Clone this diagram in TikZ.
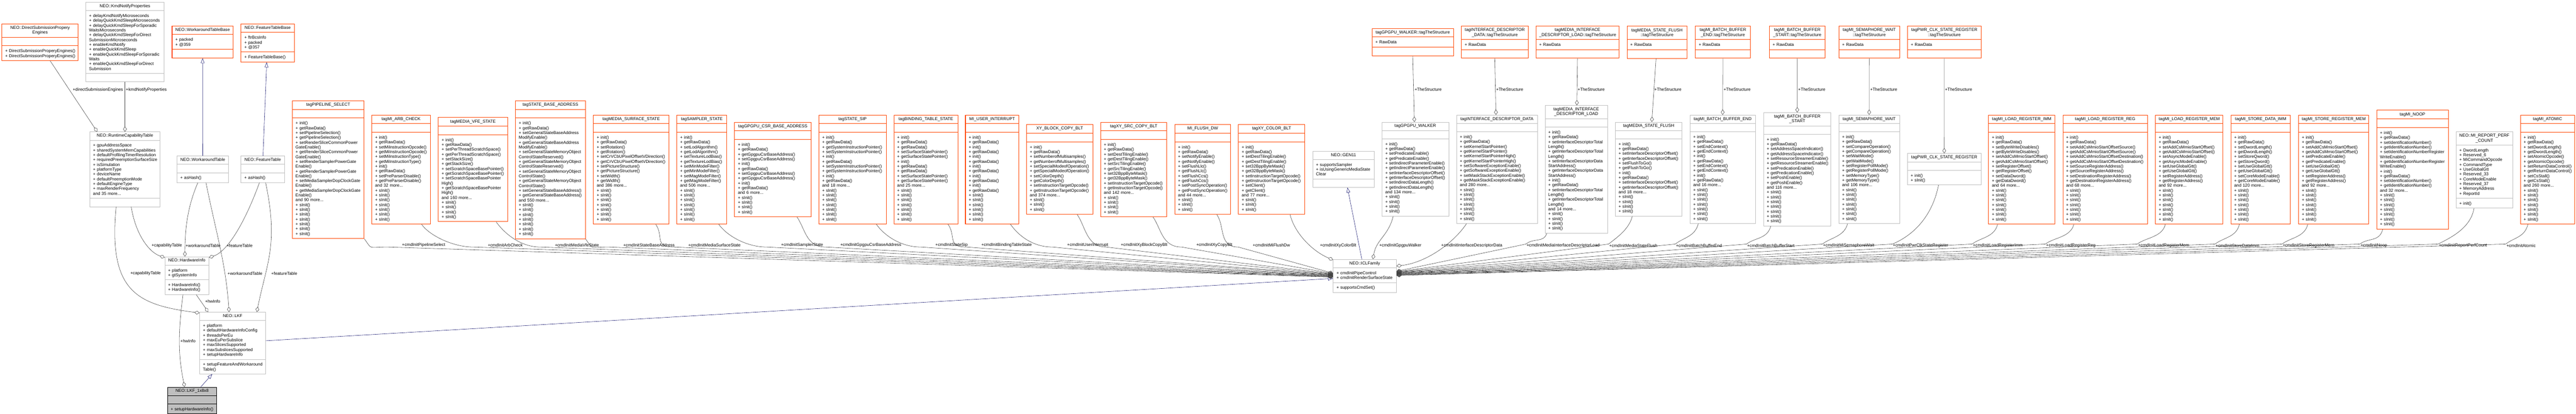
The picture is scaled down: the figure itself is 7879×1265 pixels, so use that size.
\documentclass[tikz,border=0pt]{standalone}
\usepackage{fontspec}
\setmainfont{Liberation Sans}
\usepackage{xcolor}
\usepackage{tikz}
\usetikzlibrary{shapes,arrows.meta}

\definecolor{orangec}{HTML}{FF4500}
\definecolor{greyc}{HTML}{BFBFBF}
\definecolor{edgec}{HTML}{404040}
\definecolor{navyc}{HTML}{191970}

\setlength{\parindent}{0pt}
\hyphenpenalty=10000
\exhyphenpenalty=10000

\newcommand\ct[1]{\centering\strut#1\strut\par}
\newcommand\mm[1]{\par\strut+~#1}
\newcommand\cn[1]{\par\strut#1}
\newcommand\more[1]{\cn{and #1 more...}}
\newcommand\si[1]{\foreach \i in {1,...,#1}{\mm{sInit()}}}
\newcommand\ig{\mm{init()}\mm{getRawData()}}
\newcommand\emp{\strut}

\tikzset{
  cls/.style={rectangle split, rectangle split parts=3, draw=greyc, line width=1pt,
    inner xsep=10pt, inner ysep=5pt, anchor=north west, align=left,
    font=\fontsize{13}{14.7}\selectfont},
  ext/.style={cls, draw=orangec, line width=1.6pt},
  lbl/.style={font=\fontsize{13}{14.7}\selectfont, inner sep=0pt, anchor=west},
  agg/.style={draw=edgec, line width=0.9pt, -{Diamond[open,length=16pt,width=11pt]}},
  inh/.style={draw=navyc, line width=0.9pt, -{Triangle[open,length=15pt,width=11pt]}}
}

\begin{document}
\begin{tikzpicture}[x=1pt,y=-1pt]
\useasboundingbox (0,0) rectangle (7879,1265);

\node[ext, text width=213.4pt] (dspe) at (5.1,71.8) {\ct{NEO::DirectSubmissionPropery\\Engines}\nodepart{two}\emp\nodepart{three}\mm{DirectSubmissionProperyEngines()}\mm{DirectSubmissionProperyEngines()}};
\node[cls, text width=219.2pt] (kmd) at (262.1,6.5) {\ct{NEO::KmdNotifyProperties}\nodepart{two}\mm{delayKmdNotifyMicroseconds}\mm{delayQuickKmdSleepMicroseconds}\mm{delayQuickKmdSleepForSporadic}\cn{WaitsMicroseconds}\mm{delayQuickKmdSleepForDirect}\cn{SubmissionMicroseconds}\mm{enableKmdNotify}\mm{enableQuickKmdSleep}\mm{enableQuickKmdSleepForSporadic}\cn{Waits}\mm{enableQuickKmdSleepForDirect}\cn{Submission}\nodepart{three}\emp};
\node[ext, text width=166.9pt] (wtb) at (525.5,78.3) {\ct{NEO::WorkaroundTableBase}\nodepart{two}\mm{packed}\mm{@359}\nodepart{three}\emp};
\node[ext, text width=142.6pt] (ftb) at (736.6,71.8) {\ct{NEO::FeatureTableBase}\nodepart{two}\mm{ftrBcsInfo}\mm{packed}\mm{@357}\nodepart{three}\mm{FeatureTableBase()}};
\node[cls, text width=195pt] (rct) at (274.2,402.6) {\ct{NEO::RuntimeCapabilityTable}\nodepart{two}\mm{gpuAddressSpace}\mm{sharedSystemMemCapabilities}\mm{defaultProfilingTimerResolution}\mm{requiredPreemptionSurfaceSize}\mm{isSimulation}\mm{platformType}\mm{deviceName}\mm{defaultPreemptionMode}\mm{defaultEngineType}\mm{maxRenderFrequency}\more{35}\nodepart{three}\emp};
\node[cls, text width=137.5pt] (wt) at (540.8,476) {\ct{NEO::WorkaroundTable}\nodepart{two}\emp\nodepart{three}\mm{asHash()}};
\node[cls, text width=112.7pt] (ft) at (736.6,476) {\ct{NEO::FeatureTable}\nodepart{two}\emp\nodepart{three}\mm{asHash()}};
\node[cls, text width=114.6pt] (hwi) at (503.8,784.2) {\ct{NEO::HardwareInfo}\nodepart{two}\mm{platform}\mm{gtSystemInfo}\nodepart{three}\mm{HardwareInfo()}\mm{HardwareInfo()}};
\node[cls, text width=181.6pt] (lkf) at (610.3,953.6) {\ct{NEO::LKF}\nodepart{two}\mm{platform}\mm{defaultHardwareInfoConfig}\mm{threadsPerEu}\mm{maxEuPerSubslice}\mm{maxSlicesSupported}\mm{maxSubslicesSupported}\mm{setupHardwareInfo}\nodepart{three}\mm{setupFeatureAndWorkaround}\cn{Table()}};
\node[cls, draw=black, fill=greyc, text width=131.1pt] (lkf188) at (511.5,1182.7) {\ct{NEO::LKF\_1x8x8}\nodepart{two}\emp\nodepart{three}\mm{setupHardwareInfo()}};
\node[cls, text width=168.1pt] (gen) at (4014.7,461.5) {\ct{NEO::GEN11}\nodepart{two}\mm{supportsSampler}\mm{isUsingGenericMediaState}\cn{Clear}\nodepart{three}\emp};
\node[cls, text width=173.2pt] (icl) at (4077.2,792.3) {\ct{NEO::ICLFamily}\nodepart{two}\mm{cmdInitPipeControl}\mm{cmdInitRenderSurfaceState}\nodepart{three}\mm{supportsCmdSet()}};

\node[ext, text width=199.6pt] (pipe) at (893.3,307) {\ct{tagPIPELINE\_SELECT}\nodepart{two}\emp\nodepart{three}\ig\mm{setPipelineSelection()}\mm{getPipelineSelection()}\mm{setRenderSliceCommonPower}\cn{GateEnable()}\mm{getRenderSliceCommonPower}\cn{GateEnable()}\mm{setRenderSamplerPowerGate}\cn{Enable()}\mm{getRenderSamplerPowerGate}\cn{Enable()}\mm{setMediaSamplerDopClockGate}\cn{Enable()}\mm{getMediaSamplerDopClockGate}\cn{Enable()}\more{90}\si{7}};
\node[ext, text width=158.5pt] (arb) at (1136.5,351) {\ct{tagMI\_ARB\_CHECK}\nodepart{two}\emp\nodepart{three}\ig\mm{setMiInstructionOpcode()}\mm{getMiInstructionOpcode()}\mm{setMiInstructionType()}\mm{getMiInstructionType()}\ig\mm{setPreParserDisable()}\mm{getPreParserDisable()}\more{32}\si{7}};
\node[ext, text width=191.7pt] (vfe) at (1340,358.2) {\ct{tagMEDIA\_VFE\_STATE}\nodepart{two}\emp\nodepart{three}\ig\mm{setPerThreadScratchSpace()}\mm{getPerThreadScratchSpace()}\mm{setStackSize()}\mm{getStackSize()}\mm{setScratchSpaceBasePointer()}\mm{getScratchSpaceBasePointer()}\mm{setScratchSpaceBasePointer}\cn{High()}\mm{getScratchSpaceBasePointer}\cn{High()}\more{160}\si{4}};
\node[ext, text width=193.6pt] (sba) at (1575.9,307.4) {\ct{tagSTATE\_BASE\_ADDRESS}\nodepart{two}\emp\nodepart{three}\ig\mm{setGeneralStateBaseAddress}\cn{ModifyEnable()}\mm{getGeneralStateBaseAddress}\cn{ModifyEnable()}\mm{setGeneralStateMemoryObject}\cn{ControlStateReserved()}\mm{getGeneralStateMemoryObject}\cn{ControlStateReserved()}\mm{setGeneralStateMemoryObject}\cn{ControlState()}\mm{getGeneralStateMemoryObject}\cn{ControlState()}\mm{setGeneralStateBaseAddress()}\mm{getGeneralStateBaseAddress()}\more{550}\si{7}};
\node[ext, text width=210.9pt] (mss) at (1814.4,351) {\ct{tagMEDIA\_SURFACE\_STATE}\nodepart{two}\emp\nodepart{three}\ig\mm{setRotation()}\mm{getRotation()}\mm{setCrVCbUPixelOffsetVDirection()}\mm{getCrVCbUPixelOffsetVDirection()}\mm{setPictureStructure()}\mm{getPictureStructure()}\mm{setWidth()}\mm{getWidth()}\more{386}\si{7}};
\node[ext, text width=132.4pt] (samp) at (2069.5,351) {\ct{tagSAMPLER\_STATE}\nodepart{two}\emp\nodepart{three}\ig\mm{setLodAlgorithm()}\mm{getLodAlgorithm()}\mm{setTextureLodBias()}\mm{getTextureLodBias()}\mm{setMinModeFilter()}\mm{getMinModeFilter()}\mm{setMagModeFilter()}\mm{getMagModeFilter()}\more{506}\si{7}};
\node[ext, text width=213.4pt] (csr) at (2246.2,372.7) {\ct{tagGPGPU\_CSR\_BASE\_ADDRESS}\nodepart{two}\emp\nodepart{three}\ig\mm{getGpgpuCsrBaseAddress()}\mm{setGpgpuCsrBaseAddress()}\ig\mm{setGpgpuCsrBaseAddress()}\mm{getGpgpuCsrBaseAddress()}\ig\more{6}\si{4}};
\node[ext, text width=186pt] (sip) at (2503.8,351) {\ct{tagSTATE\_SIP}\nodepart{two}\emp\nodepart{three}\ig\mm{getSystemInstructionPointer()}\mm{setSystemInstructionPointer()}\ig\mm{setSystemInstructionPointer()}\mm{getSystemInstructionPointer()}\ig\more{18}\si{7}};
\node[ext, text width=175.2pt] (btab) at (2733.4,351) {\ct{tagBINDING\_TABLE\_STATE}\nodepart{two}\emp\nodepart{three}\ig\mm{getRawData()}\mm{setSurfaceStatePointer()}\mm{getSurfaceStatePointer()}\ig\mm{getRawData()}\mm{setSurfaceStatePointer()}\mm{getSurfaceStatePointer()}\more{25}\si{7}};
\node[ext, text width=142.6pt] (uint) at (2952.2,351) {\ct{MI\_USER\_INTERRUPT}\nodepart{two}\emp\nodepart{three}\ig\ig\ig\ig\ig\ig\si{6}};
\node[ext, text width=182.8pt] (xyblk) at (3139,380) {\ct{XY\_BLOCK\_COPY\_BLT}\nodepart{two}\emp\nodepart{three}\ig\mm{setNumberofMultisamples()}\mm{getNumberofMultisamples()}\mm{setSpecialModeofOperation()}\mm{getSpecialModeofOperation()}\mm{setColorDepth()}\mm{getColorDepth()}\mm{setInstructionTargetOpcode()}\mm{getInstructionTargetOpcode()}\more{374}\si{3}};
\node[ext, text width=182.8pt] (xysrc) at (3365.4,372.7) {\ct{tagXY\_SRC\_COPY\_BLT}\nodepart{two}\emp\nodepart{three}\ig\mm{setDestTilingEnable()}\mm{getDestTilingEnable()}\mm{setSrcTilingEnable()}\mm{getSrcTilingEnable()}\mm{set32BppByteMask()}\mm{get32BppByteMask()}\mm{setInstructionTargetOpcode()}\mm{getInstructionTargetOpcode()}\more{142}\si{4}};
\node[ext, text width=150.9pt] (flush) at (3592.5,380) {\ct{MI\_FLUSH\_DW}\nodepart{two}\emp\nodepart{three}\ig\mm{setNotifyEnable()}\mm{getNotifyEnable()}\mm{setFlushLlc()}\mm{getFlushLlc()}\mm{setFlushCcs()}\mm{getFlushCcs()}\mm{setPostSyncOperation()}\mm{getPostSyncOperation()}\more{44}\si{3}};
\node[ext, text width=182.8pt] (xycol) at (3787,380) {\ct{tagXY\_COLOR\_BLT}\nodepart{two}\emp\nodepart{three}\ig\mm{setDestTilingEnable()}\mm{getDestTilingEnable()}\mm{set32BppByteMask()}\mm{get32BppByteMask()}\mm{setInstructionTargetOpcode()}\mm{getInstructionTargetOpcode()}\mm{setClient()}\mm{getClient()}\more{77}\si{3}};

\node[ext, text width=228.7pt] (walks) at (4195.8,86.3) {\ct{tagGPGPU\_WALKER::tagTheStructure}\nodepart{two}\mm{RawData}\nodepart{three}\emp};
\node[cls, text width=184.1pt] (walk) at (4226.4,372.7) {\ct{tagGPGPU\_WALKER}\nodepart{two}\emp\nodepart{three}\ig\mm{setPredicateEnable()}\mm{getPredicateEnable()}\mm{setIndirectParameterEnable()}\mm{getIndirectParameterEnable()}\mm{setInterfaceDescriptorOffset()}\mm{getInterfaceDescriptorOffset()}\mm{setIndirectDataLength()}\mm{getIndirectDataLength()}\more{134}\si{4}};
\node[ext, text width=184.7pt] (idds) at (4468.8,79) {\ct{tagINTERFACE\_DESCRIPTOR\\\_DATA::tagTheStructure}\nodepart{two}\mm{RawData}\nodepart{three}\emp};
\node[cls, text width=226.8pt] (idd) at (4454.7,351) {\ct{tagINTERFACE\_DESCRIPTOR\_DATA}\nodepart{two}\emp\nodepart{three}\ig\mm{setKernelStartPointer()}\mm{getKernelStartPointer()}\mm{setKernelStartPointerHigh()}\mm{getKernelStartPointerHigh()}\mm{setSoftwareExceptionEnable()}\mm{getSoftwareExceptionEnable()}\mm{setMaskStackExceptionEnable()}\mm{getMaskStackExceptionEnable()}\more{280}\si{7}};
\node[ext, text width=234.5pt] (midls) at (4697,79) {\ct{tagMEDIA\_INTERFACE\\\_DESCRIPTOR\_LOAD::tagTheStructure}\nodepart{two}\mm{RawData}\nodepart{three}\emp};
\node[cls, text width=170.7pt] (midl) at (4725.1,321.9) {\ct{tagMEDIA\_INTERFACE\\\_DESCRIPTOR\_LOAD}\nodepart{two}\emp\nodepart{three}\ig\mm{setInterfaceDescriptorTotal}\cn{Length()}\mm{getInterfaceDescriptorTotal}\cn{Length()}\mm{setInterfaceDescriptorData}\cn{StartAddress()}\mm{getInterfaceDescriptorData}\cn{StartAddress()}\ig\mm{setInterfaceDescriptorTotal}\cn{Length()}\mm{getInterfaceDescriptorTotal}\cn{Length()}\more{14}\si{4}};
\node[ext, text width=163.3pt] (msfs) at (4975.7,79.3) {\ct{tagMEDIA\_STATE\_FLUSH\\::tagTheStructure}\nodepart{two}\mm{RawData}\nodepart{three}\emp};
\node[cls, text width=184.1pt] (msf) at (4940,372.7) {\ct{tagMEDIA\_STATE\_FLUSH}\nodepart{two}\emp\nodepart{three}\ig\mm{setInterfaceDescriptorOffset()}\mm{getInterfaceDescriptorOffset()}\mm{setFlushToGo()}\mm{getFlushToGo()}\ig\mm{setInterfaceDescriptorOffset()}\mm{getInterfaceDescriptorOffset()}\more{18}\si{4}};
\node[ext, text width=147.7pt] (bbes) at (5185,79) {\ct{tagMI\_BATCH\_BUFFER\\\_END::tagTheStructure}\nodepart{two}\mm{RawData}\nodepart{three}\emp};
\node[cls, text width=180.2pt] (bbe) at (5168.4,351) {\ct{tagMI\_BATCH\_BUFFER\_END}\nodepart{two}\emp\nodepart{three}\ig\mm{setEndContext()}\mm{getEndContext()}\ig\mm{setEndContext()}\mm{getEndContext()}\ig\more{16}\si{7}};
\node[ext, text width=150.9pt] (bbss) at (5410.7,79) {\ct{tagMI\_BATCH\_BUFFER\\\_START::tagTheStructure}\nodepart{two}\mm{RawData}\nodepart{three}\emp};
\node[cls, text width=186pt] (bbs) at (5393.5,343.7) {\ct{tagMI\_BATCH\_BUFFER\\\_START}\nodepart{two}\emp\nodepart{three}\ig\mm{setAddressSpaceIndicator()}\mm{getAddressSpaceIndicator()}\mm{setResourceStreamerEnable()}\mm{getResourceStreamerEnable()}\mm{setPredicationEnable()}\mm{getPredicationEnable()}\mm{setPoshEnable()}\mm{getPoshEnable()}\more{116}\si{7}};
\node[ext, text width=165.6pt] (sems) at (5623.7,79) {\ct{tagMI\_SEMAPHORE\_WAIT\\::tagTheStructure}\nodepart{two}\mm{RawData}\nodepart{three}\emp};
\node[cls, text width=165.6pt] (sem) at (5623.7,351) {\ct{tagMI\_SEMAPHORE\_WAIT}\nodepart{two}\emp\nodepart{three}\ig\mm{setCompareOperation()}\mm{getCompareOperation()}\mm{setWaitMode()}\mm{getWaitMode()}\mm{setRegisterPollMode()}\mm{getRegisterPollMode()}\mm{setMemoryType()}\mm{getMemoryType()}\more{106}\si{7}};
\node[ext, text width=205.2pt] (pwrs) at (5833.5,79) {\ct{tagPWR\_CLK\_STATE\_REGISTER\\::tagTheStructure}\nodepart{two}\mm{RawData}\nodepart{three}\emp};
\node[cls, text width=205.2pt] (pwr) at (5833.5,468.7) {\ct{tagPWR\_CLK\_STATE\_REGISTER}\nodepart{two}\emp\nodepart{three}\mm{init()}\mm{sInit()}};
\node[ext, text width=182.8pt] (lri) at (6081.6,351) {\ct{tagMI\_LOAD\_REGISTER\_IMM}\nodepart{two}\emp\nodepart{three}\ig\mm{setByteWriteDisables()}\mm{getByteWriteDisables()}\mm{setAddCsMmioStartOffset()}\mm{getAddCsMmioStartOffset()}\mm{setRegisterOffset()}\mm{getRegisterOffset()}\mm{setDataDword()}\mm{getDataDword()}\more{64}\si{7}};
\node[ext, text width=238.9pt] (lrr) at (6308.7,351) {\ct{tagMI\_LOAD\_REGISTER\_REG}\nodepart{two}\emp\nodepart{three}\ig\mm{setAddCsMmioStartOffsetSource()}\mm{getAddCsMmioStartOffsetSource()}\mm{setAddCsMmioStartOffsetDestination()}\mm{getAddCsMmioStartOffsetDestination()}\mm{setSourceRegisterAddress()}\mm{getSourceRegisterAddress()}\mm{setDestinationRegisterAddress()}\mm{getDestinationRegisterAddress()}\more{68}\si{7}};
\node[ext, text width=186.7pt] (lrm) at (6591.8,351) {\ct{tagMI\_LOAD\_REGISTER\_MEM}\nodepart{two}\emp\nodepart{three}\ig\mm{setAddCsMmioStartOffset()}\mm{getAddCsMmioStartOffset()}\mm{setAsyncModeEnable()}\mm{getAsyncModeEnable()}\mm{setUseGlobalGtt()}\mm{getUseGlobalGtt()}\mm{setRegisterAddress()}\mm{getRegisterAddress()}\more{92}\si{7}};
\node[ext, text width=161.9pt] (sdi) at (6822.7,351) {\ct{tagMI\_STORE\_DATA\_IMM}\nodepart{two}\emp\nodepart{three}\ig\mm{setDwordLength()}\mm{getDwordLength()}\mm{setStoreQword()}\mm{getStoreQword()}\mm{setUseGlobalGtt()}\mm{getUseGlobalGtt()}\mm{setCoreModeEnable()}\mm{getCoreModeEnable()}\more{120}\si{7}};
\node[ext, text width=194.3pt] (srm) at (7029.5,351) {\ct{tagMI\_STORE\_REGISTER\_MEM}\nodepart{two}\emp\nodepart{three}\ig\mm{setAddCsMmioStartOffset()}\mm{getAddCsMmioStartOffset()}\mm{setPredicateEnable()}\mm{getPredicateEnable()}\mm{setUseGlobalGtt()}\mm{getUseGlobalGtt()}\mm{setRegisterAddress()}\mm{getRegisterAddress()}\more{92}\si{7}};
\node[ext, text width=198.7pt] (noop) at (7268.7,336.4) {\ct{tagMI\_NOOP}\nodepart{two}\emp\nodepart{three}\ig\mm{setIdentificationNumber()}\mm{getIdentificationNumber()}\mm{setIdentificationNumberRegister}\cn{WriteEnable()}\mm{getIdentificationNumberRegister}\cn{WriteEnable()}\ig\mm{setIdentificationNumber()}\mm{getIdentificationNumber()}\more{32}\si{7}};
\node[cls, text width=152.8pt] (mrpc) at (7511.7,402.6) {\ct{NEO::MI\_REPORT\_PERF\\\_COUNT}\nodepart{two}\mm{DwordLength}\mm{Reserved\_6}\mm{MiCommandOpcode}\mm{CommandType}\mm{UseGlobalGtt}\mm{Reserved\_33}\mm{CoreModeEnable}\mm{Reserved\_37}\mm{MemoryAddress}\mm{ReportId}\nodepart{three}\mm{init()}};
\node[ext, text width=145.8pt] (atom) at (7708.1,351) {\ct{tagMI\_ATOMIC}\nodepart{two}\emp\nodepart{three}\ig\mm{setDwordLength()}\mm{getDwordLength()}\mm{setAtomicOpcode()}\mm{getAtomicOpcode()}\mm{setReturnDataControl()}\mm{getReturnDataControl()}\mm{setCsStall()}\mm{getCsStall()}\more{260}\si{7}};

\draw[agg] ([xshift=31pt]dspe.south) -- ([xshift=-85pt]rct.north);
\draw[agg] (kmd.south) -- (rct.north);
\draw[inh] (wt.north) -- (wtb.south);
\draw[inh] ([xshift=1pt]ft.north) -- ([xshift=-3pt]ftb.south);
\draw[agg] ([xshift=19pt]rct.south) .. controls +(15,90) and +(-45,-15) .. ([yshift=-3pt]hwi.north west);
\draw[agg] ([xshift=-15pt]wt.south) .. controls +(-30,70) and +(0,-90) .. ([xshift=-6pt]hwi.north);
\draw[agg] ([xshift=-10pt]ft.south) .. controls +(-40,110) and +(60,-20) .. ([yshift=-3pt]hwi.north east);
\draw[agg] ([xshift=-27pt]rct.south) .. controls +(-25,260) and +(-190,-25) .. ([yshift=-3pt]lkf.north west);
\draw[agg] ([xshift=10pt]wt.south) .. controls +(30,150) and +(-10,-150) .. ([xshift=-11pt]lkf.north);
\draw[agg] ([xshift=9pt]ft.south) .. controls +(40,190) and +(30,-150) .. ([xshift=74pt]lkf.north);
\draw[agg] ([xshift=28.5pt]hwi.south) -- ([xshift=-74.6pt]lkf.north);
\draw[agg] ([xshift=-12pt]hwi.south) .. controls +(-15,120) and +(-20,-100) .. ([xshift=-23pt]lkf188.north);
\draw[inh] ([xshift=26.5pt]lkf188.north) -- ([xshift=-62.5pt]lkf.south);
\draw[inh] ([yshift=7pt]lkf.east) -- ([yshift=-8pt]icl.west);
\draw[inh] ([xshift=-9pt]icl.north) -- ([xshift=12pt]gen.south);

\draw[agg] (pipe.south east) .. controls +(25,35) and +(-60,0) .. (1184.6,755) -- ([yshift=-4pt]icl.west);
\draw[agg] ([xshift=63pt]arb.south) .. controls +(25,35) and +(-60,0) .. (1446.7,755) -- ([yshift=-3pt]icl.west);
\draw[agg] ([xshift=71pt]vfe.south) .. controls +(25,35) and +(-60,0) .. (1652,755) -- ([yshift=-2pt]icl.west);
\draw[agg] (sba.south east) .. controls +(25,35) and +(-60,0) .. (1861,755) -- ([yshift=-1pt]icl.west);
\draw[agg] ([xshift=75pt]mss.south) .. controls +(25,35) and +(-60,0) .. (2060,755) -- (icl.west);
\draw[agg] ([xshift=52pt]samp.south) .. controls +(25,35) and +(-60,0) .. (2344,755) -- ([yshift=1pt]icl.west);
\draw[agg] ([xshift=74pt]csr.south) .. controls +(25,35) and +(-60,0) .. (2525,755) -- ([yshift=2pt]icl.west);
\draw[agg] ([xshift=73pt]sip.south) .. controls +(25,35) and +(-60,0) .. (2816,755) -- ([yshift=3pt]icl.west);
\draw[agg] ([xshift=68pt]btab.south) .. controls +(25,35) and +(-60,0) .. (2956,755) -- ([yshift=4pt]icl.west);
\draw[agg] ([xshift=56.5pt]uint.south) .. controls +(25,35) and +(-60,0) .. (3219,755) -- ([yshift=5pt]icl.west);
\draw[agg] ([xshift=53.6pt]xyblk.south) .. controls +(25,35) and +(-60,0) .. (3383,755) -- ([yshift=6pt]icl.west);
\draw[agg] ([xshift=59pt]xysrc.south) .. controls +(25,35) and +(-60,0) .. (3614,755) -- ([yshift=7pt]icl.west);
\draw[agg] ([xshift=43pt]flush.south) .. controls +(25,35) and +(-60,0) .. (3787,755) -- ([yshift=8pt]icl.west);
\draw[agg] ([xshift=56.6pt]xycol.south) .. controls +(15,60) and +(-60,-25) .. ([yshift=-2pt]icl.north west);

\draw[agg] (walks.south) -- ([xshift=-3pt]walk.north);
\draw[agg] (idds.south) -- ([xshift=-3pt]idd.north);
\draw[agg] (midls.south) -- ([xshift=2pt]midl.north);
\draw[agg] ([xshift=-3pt]msfs.south) -- ([xshift=9.6pt]msf.north);
\draw[agg] (bbes.south) -- (bbe.north);
\draw[agg] (bbss.south) -- (bbs.north);
\draw[agg] (sems.south) -- (sem.north);
\draw[agg] (pwrs.south) -- (pwr.north);

\draw[agg] ([xshift=-67.7pt]walk.south) .. controls +(-15,60) and +(10,-60) .. ([xshift=25pt]icl.north);
\draw[agg] ([xshift=-93pt]idd.south) .. controls +(-40,60) and +(90,-10) .. ([yshift=30pt]icl.east);
\draw[agg] ([xshift=-90pt]midl.south) .. controls +(-10,30) and +(25,-20) .. (4667,746) -- ([yshift=14pt]icl.east);
\draw[agg] ([xshift=-50pt]msf.south) .. controls +(-10,40) and +(25,-20) .. (4920,746) -- ([yshift=13pt]icl.east);
\draw[agg] ([xshift=-74.5pt]bbe.south) .. controls +(-10,40) and +(25,-20) .. (5124,746) -- ([yshift=12pt]icl.east);
\draw[agg] ([xshift=-81pt]bbs.south) .. controls +(-10,40) and +(25,-20) .. (5342,746) -- ([yshift=11pt]icl.east);
\draw[agg] ([xshift=-66pt]sem.south) .. controls +(-10,40) and +(25,-20) .. (5574,746) -- ([yshift=10pt]icl.east);
\draw[agg] ([xshift=-17.5pt]pwr.south) .. controls +(-20,100) and +(60,-25) .. (5788,746) -- ([yshift=9pt]icl.east);
\draw[agg] ([xshift=-74pt]lri.south) .. controls +(-10,40) and +(25,-20) .. (6032,746) -- ([yshift=8pt]icl.east);
\draw[agg] ([xshift=-96pt]lrr.south) .. controls +(-10,40) and +(25,-20) .. (6256,746) -- ([yshift=7pt]icl.east);
\draw[agg] ([xshift=-73pt]lrm.south) .. controls +(-10,40) and +(25,-20) .. (6537,746) -- ([yshift=6pt]icl.east);
\draw[agg] ([xshift=-65pt]sdi.south) .. controls +(-10,40) and +(25,-20) .. (6775,746) -- ([yshift=5pt]icl.east);
\draw[agg] ([xshift=-79pt]srm.south) .. controls +(-10,40) and +(25,-20) .. (6980,746) -- ([yshift=4pt]icl.east);
\draw[agg] ([xshift=-91pt]noop.south) .. controls +(-10,40) and +(25,-20) .. (7218,746) -- ([yshift=3pt]icl.east);
\draw[agg] ([xshift=-31.6pt]mrpc.south) .. controls +(-10,60) and +(40,-20) .. (7457,746) -- ([yshift=2pt]icl.east);
\draw[agg] ([xshift=-60pt]atom.south) .. controls +(-10,40) and +(25,-20) .. (7664,746) -- ([yshift=1pt]icl.east);

\node[lbl] (lDse) at (222.6,274) {+directSubmissionEngines};
\node[lbl] (lKmd) at (385,274) {+kmdNotifyProperties};
\node[lbl] (lCap) at (463.6,751) {+capabilityTable};
\node[lbl] (lWt) at (567.6,751) {+workaroundTable};
\node[lbl] (lFt) at (693,751) {+featureTable};
\node[lbl] (lCapb) at (398.6,836) {+capabilityTable};
\node[lbl] (lWtb) at (695.8,836) {+workaroundTable};
\node[lbl] (lFtb) at (829.7,836) {+featureTable};
\node[lbl] (lHw) at (627.5,920.5) {+hwInfo};
\node[lbl] (lHwb) at (551.7,1042) {+hwInfo};

\node[lbl] (lPipe) at (1229.6,749) {+cmdInitPipelineSelect};
\node[lbl] (lArb) at (1491.7,749) {+cmdInitArbCheck};
\node[lbl] (lVfe) at (1697,749) {+cmdInitMediaVfeState};
\node[lbl] (lSba) at (1906.3,749) {+cmdInitStateBaseAddress};
\node[lbl] (lMss) at (2105,749) {+cmdInitMediaSurfaceState};
\node[lbl] (lSamp) at (2389,749) {+cmdInitSamplerState};
\node[lbl] (lCsr) at (2570,749) {+cmdInitGpgpuCsrBaseAddress};
\node[lbl] (lSip) at (2861,749) {+cmdInitStateSip};
\node[lbl] (lBtab) at (3001.3,749) {+cmdInitBindingTableState};
\node[lbl] (lUint) at (3264,749) {+cmdInitUserInterrupt};
\node[lbl] (lXyblk) at (3428,749) {+cmdInitXyBlockCopyBlt};
\node[lbl] (lXysrc) at (3658.8,749) {+cmdInitXyCopyBlt};
\node[lbl] (lFlush) at (3831.6,749) {+cmdInitMiFlushDw};
\node[lbl] (lXycol) at (4037,751) {+cmdInitXyColorBlt};

\node[lbl] (lWalk) at (4218.8,751) {+cmdInitGpgpuWalker};
\node[lbl] (lIdd) at (4408,751) {+cmdInitInterfaceDescriptorData};
\node[lbl] (lMidl) at (4669,751) {+cmdInitMediaInterfaceDescriptorLoad};
\node[lbl] (lMsf) at (4922,751) {+cmdInitMediaStateFlush};
\node[lbl] (lBbe) at (5126,751) {+cmdInitBatchBufferEnd};
\node[lbl] (lBbs) at (5343.8,751) {+cmdInitBatchBufferStart};
\node[lbl] (lSem) at (5575.9,751) {+cmdInitMiSemaphoreWait};
\node[lbl] (lPwr) at (5789.5,751) {+cmdInitPwrClkStateRegister};
\node[lbl] (lLri) at (6034.4,751) {+cmdInitLoadRegisterImm};
\node[lbl] (lLrr) at (6258.3,751) {+cmdInitLoadRegisterReg};
\node[lbl] (lLrm) at (6539.5,751) {+cmdInitLoadRegisterMem};
\node[lbl] (lSdi) at (6776.8,751) {+cmdInitStoreDataImm};
\node[lbl] (lSrm) at (6981.7,751) {+cmdInitStoreRegisterMem};
\node[lbl] (lNoop) at (7220.2,751) {+cmdInitNoop};
\node[lbl] (lMrpc) at (7459.4,751) {+cmdInitReportPerfCount};
\node[lbl] (lAtom) at (7666,751) {+cmdInitAtomic};

\node[lbl] (sWalk) at (4326.5,274) {+TheStructure};
\node[lbl] (sIdd) at (4575.9,274) {+TheStructure};
\node[lbl] (sMidl) at (4825.3,274) {+TheStructure};
\node[lbl] (sMsf) at (5060,274) {+TheStructure};
\node[lbl] (sBbe) at (5271.7,274) {+TheStructure};
\node[lbl] (sBbs) at (5500,274) {+TheStructure};
\node[lbl] (sSem) at (5720,274) {+TheStructure};
\node[lbl] (sPwr) at (5949,274) {+TheStructure};
\end{tikzpicture}
\end{document}
